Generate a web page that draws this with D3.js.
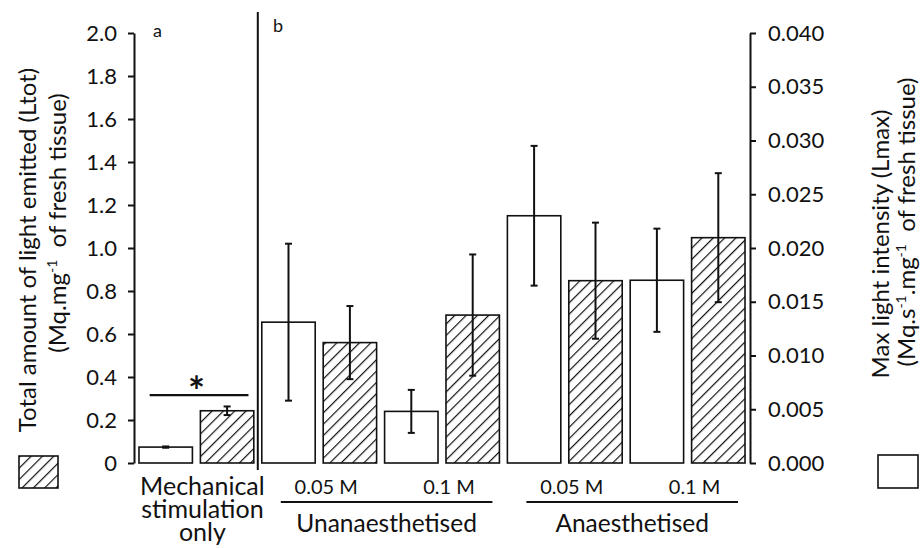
<!DOCTYPE html>
<html>
<head>
<meta charset="utf-8">
<script src="https://cdn.jsdelivr.net/npm/d3@7"></script>
<style>
  body { margin: 0; background: #fff; }
  text { font-family: Lato, "Open Sans", sans-serif; fill: #111; }
</style>
</head>
<body>
<svg id="chart" width="923" height="548"></svg>
<script>
const WIDTH = 923;
const HEIGHT = 548;

// one entry per treatment (white bar = Lmax, hatched bar = Ltot)
const categories = ['Mechanical stimulation only', 'Unanaesthetised 0.05 M', 'Unanaesthetised 0.1 M', 'Anaesthetised 0.05 M', 'Anaesthetised 0.1 M'];
const concLabels = ['', '0.05 M', '0.1 M', '0.05 M', '0.1 M'];
const groupNames = ['Unanaesthetised', 'Anaesthetised'];
const mechLabel = ['Mechanical', 'stimulation', 'only'];

const lmaxMean = [0.00148, 0.0131, 0.0048, 0.0230, 0.0170];
const lmaxErr = [0.00006, 0.0073, 0.0020, 0.0065, 0.0048];
const ltotMean = [0.243, 0.560, 0.688, 0.848, 1.048];
const ltotErr = [0.020, 0.170, 0.282, 0.270, 0.300];

const ltotTicks = [0, 0.2, 0.4, 0.6, 0.8, 1.0, 1.2, 1.4, 1.6, 1.8, 2.0];
const lmaxTicks = [0, 0.005, 0.010, 0.015, 0.020, 0.025, 0.030, 0.035, 0.040];

const Y0 = 463;
const Y1 = 33;
const LEFT = 135;
const RIGHT = 750;

const svg = d3.select('#chart');

// hatch pattern
const defs = svg.append('defs');
defs.append('pattern')
  .attr('id', 'hatch')
  .attr('patternUnits', 'userSpaceOnUse')
  .attr('width', 8)
  .attr('height', 8)
  .attr('patternTransform', 'rotate(45)')
  .append('line')
  .attr('x1', 0).attr('y1', 0)
  .attr('x2', 0).attr('y2', 8)
  .style('stroke', '#111')
  .style('stroke-width', 2.4);

// scales
const slots = d3.range(categories.length * 2);
const x = d3.scaleBand().domain(slots).range([LEFT, RIGHT - 1]).paddingInner(0.13).paddingOuter(0.065);
const yL = d3.scaleLinear().domain([0, 2]).range([Y0, Y1]);
const yR = d3.scaleLinear().domain([0, 0.04]).range([Y0, Y1]);
const bw = x.bandwidth();

const bars = [];
categories.forEach((c, i) => {
  bars.push({ slot: 2 * i, y: yR(lmaxMean[i]), lo: yR(lmaxMean[i] - lmaxErr[i]), hi: yR(lmaxMean[i] + lmaxErr[i]), hatched: false });
  bars.push({ slot: 2 * i + 1, y: yL(ltotMean[i]), lo: yL(ltotMean[i] - ltotErr[i]), hi: yL(ltotMean[i] + ltotErr[i]), hatched: true });
});

// bars
svg.append('g').selectAll('rect').data(bars).enter().append('rect')
  .attr('x', (d) => x(d.slot))
  .attr('y', (d) => d.y)
  .attr('width', bw)
  .attr('height', (d) => Y0 - d.y)
  .style('fill', (d) => (d.hatched ? 'url(#hatch)' : '#fff'))
  .style('stroke', '#111')
  .style('stroke-width', 1.6);

// error bars
const err = svg.append('g').selectAll('g').data(bars).enter().append('g')
  .style('stroke', '#111')
  .style('stroke-width', 2);
err.append('line')
  .attr('x1', (d) => x(d.slot) + bw / 2).attr('x2', (d) => x(d.slot) + bw / 2)
  .attr('y1', (d) => d.lo).attr('y2', (d) => d.hi);
err.append('line')
  .attr('x1', (d) => x(d.slot) + bw / 2 - 3.5).attr('x2', (d) => x(d.slot) + bw / 2 + 3.5)
  .attr('y1', (d) => d.lo).attr('y2', (d) => d.lo);
err.append('line')
  .attr('x1', (d) => x(d.slot) + bw / 2 - 3.5).attr('x2', (d) => x(d.slot) + bw / 2 + 3.5)
  .attr('y1', (d) => d.hi).attr('y2', (d) => d.hi);

// axes
const fmtL = (v) => (v === 0 ? '0' : d3.format('.1f')(v));
const axL = svg.append('g')
  .attr('transform', `translate(${LEFT - 1},0)`)
  .call(d3.axisLeft(yL).tickValues(ltotTicks).tickFormat(fmtL).tickSize(6).tickSizeOuter(0).tickPadding(11));
const axR = svg.append('g')
  .attr('transform', `translate(${RIGHT},0)`)
  .call(d3.axisRight(yR).tickValues(lmaxTicks).tickFormat(d3.format('.3f')).tickSize(6).tickSizeOuter(0).tickPadding(12));
[axL, axR].forEach((ax) => {
  ax.selectAll('path, line').style('stroke', '#111').style('stroke-width', 2);
  ax.selectAll('text').style('font-size', '22px').style('font-family', 'Lato, sans-serif').style('fill', '#111');
});

// divider between panels
const divX = (x(1) + bw + x(2)) / 2;
svg.append('line')
  .attr('x1', divX).attr('x2', divX)
  .attr('y1', 12).attr('y2', 470)
  .style('stroke', '#111').style('stroke-width', 2);

svg.append('text').attr('x', 153).attr('y', 37).style('font-size', '18px').text('a');
svg.append('text').attr('x', 273).attr('y', 32).style('font-size', '18px').text('b');

// significance
svg.append('line')
  .attr('x1', x(0) + bw * 0.2).attr('x2', x(1) + bw * 0.9)
  .attr('y1', yL(0.316)).attr('y2', yL(0.316))
  .style('stroke', '#111').style('stroke-width', 2.2);
svg.append('text')
  .attr('x', (x(0) + x(1) + bw) / 2)
  .attr('y', yL(0.316) + 11)
  .attr('text-anchor', 'middle')
  .style('font-size', '40px')
  .style('font-weight', 'bold')
  .text('*');

// bottom labels
const mechX = (x(0) + x(1) + bw) / 2 + 6;
svg.append('g').selectAll('text').data(mechLabel).enter().append('text')
  .attr('x', mechX)
  .attr('y', (d, i) => 495 + i * 23)
  .attr('text-anchor', 'middle')
  .style('font-size', '25px')
  .text((d) => d);

svg.append('g').selectAll('text').data(concLabels.slice(1)).enter().append('text')
  .attr('x', (d, i) => (x(2 * (i + 1)) + x(2 * (i + 1) + 1) + bw) / 2 + 7)
  .attr('y', 494)
  .attr('text-anchor', 'middle')
  .style('font-size', '20px')
  .text((d) => d);

groupNames.forEach((g, k) => {
  const x1 = x(2 + 4 * k) + 19;
  const x2 = x(5 + 4 * k) + bw - 7;
  svg.append('line')
    .attr('x1', x1).attr('x2', x2)
    .attr('y1', 502).attr('y2', 502)
    .style('stroke', '#111').style('stroke-width', 2.2);
  svg.append('text')
    .attr('x', (x1 + x2) / 2)
    .attr('y', 532)
    .attr('text-anchor', 'middle')
    .style('font-size', '24.5px')
    .text(g);
});

// axis titles
function title(tx, ty, parts) {
  const t = svg.append('text')
    .attr('transform', `translate(${tx},${ty}) rotate(-90)`)
    .attr('text-anchor', 'middle')
    .style('font-size', '24px');
  parts.forEach((p) => {
    if (p.sup) {
      t.append('tspan').attr('dy', -9).style('font-size', '14px').text(p.t);
    } else {
      t.append('tspan').attr('dy', p.back ? 9 : 0).text(p.t);
    }
  });
  return t;
}
title(36, 250, [{ t: 'Total amount of light emitted (Ltot)' }]);
title(66, 223, [{ t: '(Mq.mg' }, { t: '-1', sup: true }, { t: '\u00a0 of fresh tissue)', back: true }]);
title(889, 244, [{ t: 'Max light intensity (Lmax)' }]);
title(915, 222, [{ t: '(Mq.s' }, { t: '-1', sup: true }, { t: '.mg', back: true }, { t: '-1', sup: true }, { t: '\u00a0\u00a0of fresh tissue)', back: true }]);

// legend boxes
svg.append('rect').attr('x', 19).attr('y', 456).attr('width', 39).attr('height', 32)
  .style('fill', 'url(#hatch)').style('stroke', '#111').style('stroke-width', 1.6);
svg.append('rect').attr('x', 878).attr('y', 455).attr('width', 40).attr('height', 33)
  .style('fill', '#fff').style('stroke', '#111').style('stroke-width', 1.6);
</script>
</body>
</html>
